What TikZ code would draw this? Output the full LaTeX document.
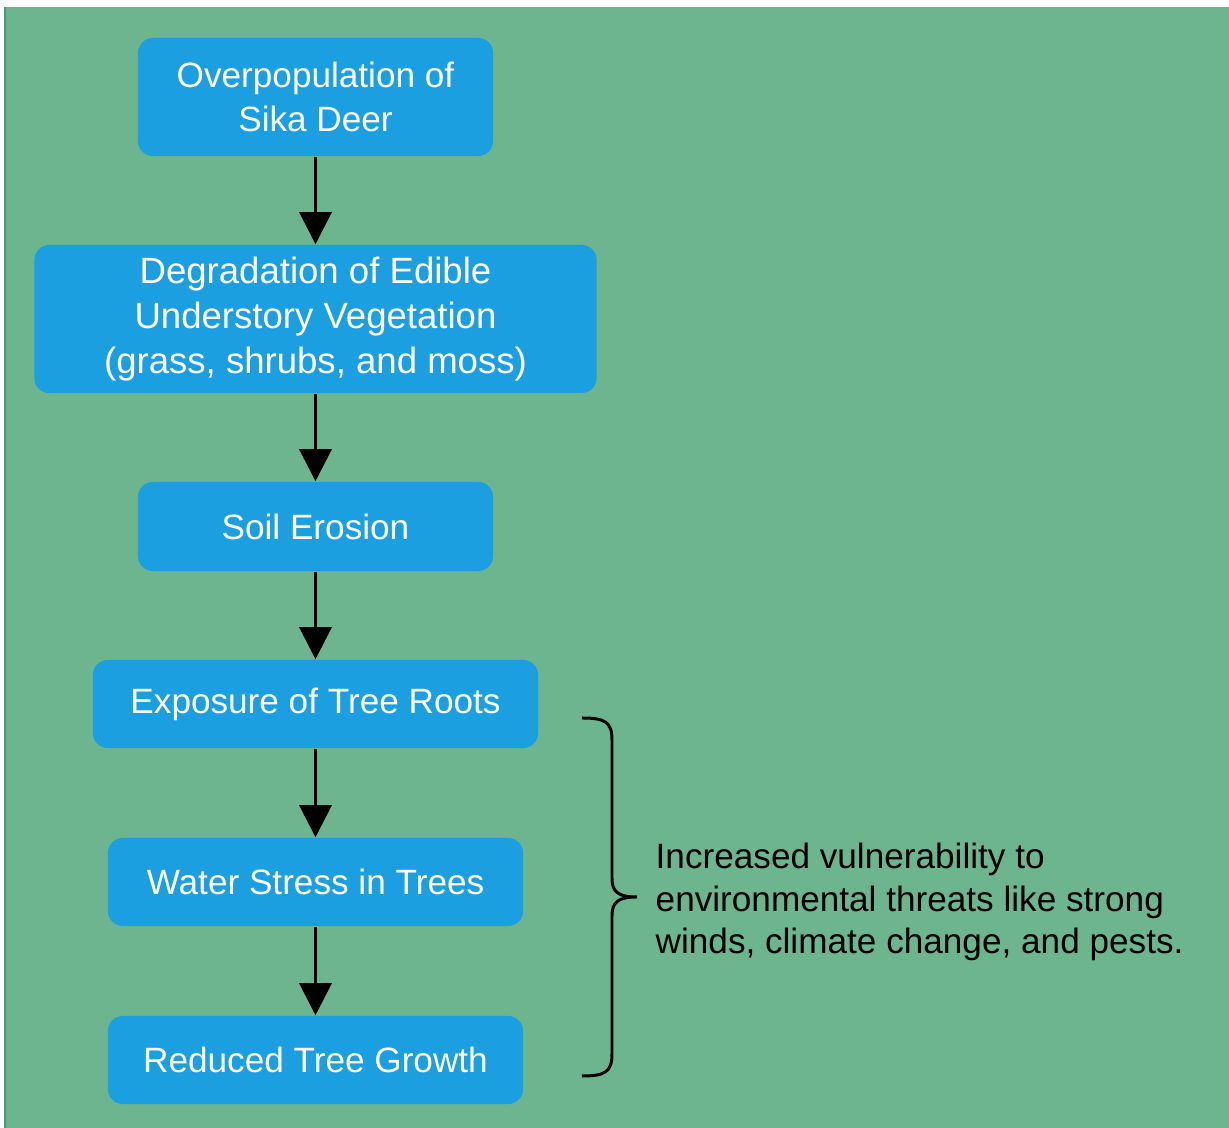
\documentclass[tikz,border=0pt]{standalone}
\usepackage{fontspec}
\setmainfont{Liberation Sans}
\usetikzlibrary{arrows.meta,positioning}
\definecolor{bggreen}{HTML}{6DB58E}
\definecolor{edgegreen}{HTML}{4E9A72}
\definecolor{boxblue}{HTML}{1B9FE0}
\tikzset{
stage/.style={fill=boxblue, rounded corners=0.15cm, text=white, align=center, inner sep=0pt, font=\fontsize{10}{12.6}\selectfont},
arr/.style={line width=0.85pt, -{Triangle[width=0.32cm,length=0.32cm]}}
}

\begin{document}
\begin{tikzpicture}[x=0.01cm,y=-0.01cm]
\useasboundingbox (0,0) rectangle (1229,1128);
\fill[white] (0,0) rectangle (1229,1128);
\fill[bggreen] (5,7) rectangle (1229,1128);
\draw[edgegreen, line width=0.5pt] (5,7) -- (5,1128);
% flow of stages
\node[stage, minimum width=3.55cm, minimum height=1.18cm] (deer) at (315.5,97) {Overpopulation of\\Sika Deer};
\node[stage, minimum width=5.62cm, minimum height=1.48cm, font=\fontsize{10.4}{12.8}\selectfont] (veg) at (315.5,319) {Degradation of Edible\\Understory Vegetation\\(grass, shrubs, and moss)};
\node[stage, minimum width=3.55cm, minimum height=0.89cm] (soil) at (315.5,526.5) {Soil Erosion};
\node[stage, minimum width=4.45cm, minimum height=0.88cm] (roots) at (315.5,704) {Exposure of Tree Roots};
\node[stage, minimum width=4.15cm, minimum height=0.88cm] (water) at (315.5,882) {Water Stress in Trees};
\node[stage, minimum width=4.15cm, minimum height=0.88cm] (growth) at (315.5,1060) {Reduced Tree Growth};
\draw[arr] (deer.south) -- (veg.north);
\draw[arr] (veg.south) -- (soil.north);
\draw[arr] (soil.south) -- (roots.north);
\draw[arr] (roots.south) -- (water.north);
\draw[arr] (water.south) -- (growth.north);
% brace and note
\coordinate (btop) at (582,718);
\coordinate (btip) at (637,897);
\coordinate (bbot) at (582,1076);
\draw[line width=0.85pt] (btop) .. controls (605,718) and (612,722) .. (612,740) -- (612,878)
 .. controls (612,892) and (618,897) .. (btip)
 .. controls (618,897) and (612,902) .. (612,916) -- (612,1054)
 .. controls (612,1072) and (605,1076) .. (bbot);
\node[anchor=west, align=left, inner sep=0pt, font=\fontsize{10}{12}\selectfont] (note) at (655,902) {Increased vulnerability to\\environmental threats like strong\\winds, climate change, and pests.};
\end{tikzpicture}
\end{document}
